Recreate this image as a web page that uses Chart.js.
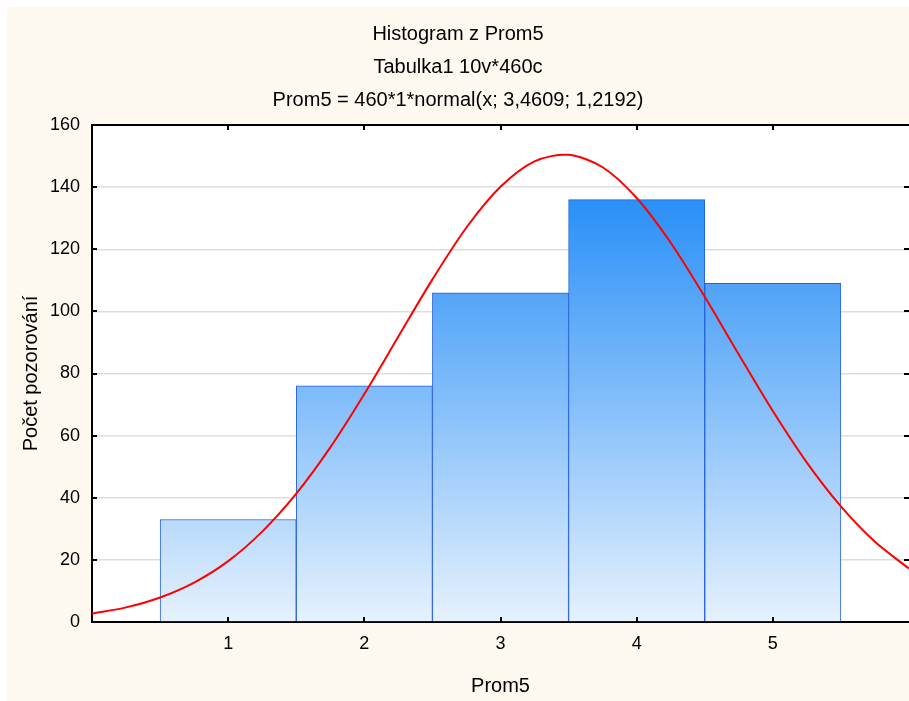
<!DOCTYPE html>
<html>
<head>
<meta charset="utf-8">
<script src="https://cdn.jsdelivr.net/npm/chart.js@4/dist/chart.umd.min.js"></script>
<style>
  html, body { margin: 0; padding: 0; background: #ffffff; }
  #wrap { position: absolute; left: 7px; top: 7px; width: 902px; height: 694px; }
</style>
</head>
<body>
<div id="wrap"><canvas id="histChart"></canvas></div>
<script>
// histogram bins (category = bin centre) and counts
const binCenters = [1, 2, 3, 4, 5];
const counts = [33, 76, 106, 136, 109];

// fitted normal curve, every 0.25
const curveX = [0, 0.25, 0.5, 0.75, 1, 1.25, 1.5, 1.75, 2, 2.25, 2.5, 2.75, 3,
    3.25, 3.5, 3.75, 4, 4.25, 4.5, 4.75, 5, 5.25, 5.5, 5.75, 6];
const curveY = [2.7, 4.7, 7.9, 12.7, 19.6, 29.1, 41.3, 56.2, 73.4, 91.9, 110.3, 127.0, 140.1,
    148.3, 150.4, 146.4, 136.5, 122.1, 104.7, 86.1, 67.9, 51.3, 37.2, 25.8, 17.2];

const yTicks = [0, 20, 40, 60, 80, 100, 120, 140, 160];
const xTicks = [1, 2, 3, 4, 5];

const titleLines = ['Histogram z Prom5', 'Tabulka1 10v*460c', 'Prom5 = 460*1*normal(x; 3,4609; 1,2192)'];

const FONT = 'Liberation Sans, Arial, sans-serif';

// cream background behind everything
const bgPlugin = {
    id: 'bg',
    beforeDraw(chart) {
        const c = chart.ctx;
        c.save();
        c.fillStyle = '#fdf9ef';
        c.fillRect(0, 0, chart.width, chart.height);
        const a = chart.chartArea;
        c.fillStyle = '#ffffff';
        c.fillRect(a.left, a.top, a.right - a.left, a.bottom - a.top);
        c.restore();
    }
};

// small tick marks pointing into the plot on all four sides
const innerTicks = {
    id: 'innerTicks',
    afterDraw(chart) {
        const c = chart.ctx;
        const a = chart.chartArea;
        const xs = chart.scales.x, ys = chart.scales.y;
        const len = 5;
        c.save();
        c.strokeStyle = '#000000';
        c.lineWidth = 2;
        c.beginPath();
        yTicks.forEach(v => {
            const py = Math.round(ys.getPixelForValue(v));
            c.moveTo(a.left, py); c.lineTo(a.left + len, py);
            c.moveTo(a.right, py); c.lineTo(a.right - len, py);
        });
        xTicks.forEach(v => {
            const px = Math.round(xs.getPixelForValue(v));
            c.moveTo(px, a.bottom); c.lineTo(px, a.bottom - len);
            c.moveTo(px, a.top); c.lineTo(px, a.top + len);
        });
        c.stroke();
        c.restore();
    }
};

function barGradient(context) {
    const chart = context.chart;
    const a = chart.chartArea;
    if (!a) return '#4aa2f9';
    const g = chart.ctx.createLinearGradient(0, a.top, 0, a.bottom);
    g.addColorStop(0, 'rgb(8, 126, 246)');
    g.addColorStop(1, 'rgb(230, 241, 253)');
    return g;
}

// eslint-disable-next-line no-undef
new Chart(document.getElementById('histChart'), {
    type: 'bar',
    data: {
        datasets: [
            {
                type: 'line',
                data: curveX.map((x, i) => ({ x: x, y: curveY[i] })),
                borderColor: '#ff0000',
                borderWidth: 2,
                pointRadius: 0,
                tension: 0.3,
                fill: false,
                order: 0
            },
            {
                type: 'bar',
                data: binCenters.map((x, i) => ({ x: x, y: counts[i] })),
                backgroundColor: barGradient,
                borderColor: '#2462d8',
                borderWidth: 1,
                barPercentage: 1,
                categoryPercentage: 1,
                order: 1
            }
        ]
    },
    options: {
        responsive: true,
        maintainAspectRatio: false,
        animation: false,
        layout: { padding: { top: 0, right: 0, bottom: 0, left: 0 } },
        plugins: {
            legend: { display: false },
            tooltip: { enabled: false },
            title: {
                display: true,
                text: titleLines,
                color: '#000000',
                font: { family: FONT, size: 20, weight: 'normal', lineHeight: '33px' },
                padding: { top: 10.5, bottom: 8.5 }
            }
        },
        scales: {
            x: {
                type: 'linear',
                position: 'bottom',
                offset: false,
                min: 0,
                max: 6,
                afterBuildTicks: s => { s.ticks = xTicks.map(v => ({ value: v })); },
                ticks: { color: '#000000', padding: 11, font: { family: FONT, size: 18 } },
                grid: { display: false, drawTicks: false },
                border: { display: true, color: '#000000', width: 2 },
                title: {
                    display: true, text: 'Prom5', color: '#000000',
                    font: { family: FONT, size: 20 }, padding: { top: 0, bottom: 3 }
                },
                afterFit: s => { s.height = 79; }
            },
            x2: {
                type: 'linear',
                position: 'top',
                offset: false,
                min: 0,
                max: 6,
                ticks: { display: false },
                grid: { display: false, drawTicks: false },
                border: { display: true, color: '#000000', width: 2 }
            },
            y: {
                min: 0,
                max: 160,
                afterBuildTicks: s => { s.ticks = yTicks.map(v => ({ value: v })); },
                ticks: { color: '#000000', padding: 12, font: { family: FONT, size: 18 } },
                grid: {
                    drawTicks: false,
                    lineWidth: 1.5,
                    color: ctx => (ctx.tick && (ctx.tick.value === 0 || ctx.tick.value === 160)) ? 'rgba(0,0,0,0)' : '#dedede'
                },
                border: { display: true, color: '#000000', width: 2 },
                title: {
                    display: true, text: 'Počet pozorování', color: '#000000',
                    font: { family: FONT, size: 20 }, padding: { top: 12, bottom: 0 }
                },
                afterFit: s => { s.width = 85; }
            }
        }
    },
    plugins: [bgPlugin, innerTicks]
});
</script>
</body>
</html>
